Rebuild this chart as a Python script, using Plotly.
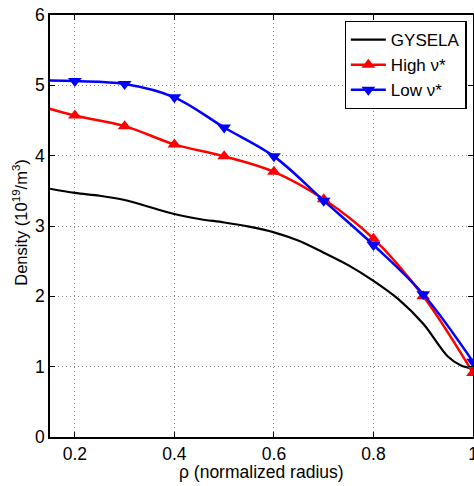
import plotly.graph_objects as go

# GYSELA reference profile
rho_gysela = [0.15, 0.2, 0.25, 0.3, 0.35, 0.4, 0.45, 0.5, 0.55, 0.6, 0.65, 0.7, 0.75, 0.8, 0.85, 0.9, 0.95, 0.975, 1.0]
dens_gysela = [3.53, 3.47, 3.43, 3.37, 3.27, 3.17, 3.10, 3.05, 2.99, 2.91, 2.79, 2.62, 2.44, 2.22, 1.96, 1.61, 1.14, 1.02, 0.97]

# Measured profiles
rho_meas = [0.1, 0.2, 0.3, 0.4, 0.5, 0.6, 0.7, 0.8, 0.9, 1.0]
dens_high = [4.77, 4.57, 4.42, 4.16, 3.99, 3.77, 3.38, 2.82, 2.00, 0.91]
dens_low = [5.07, 5.06, 5.02, 4.83, 4.40, 3.99, 3.36, 2.73, 2.03, 1.07]

x_ticks = [0.2, 0.4, 0.6, 0.8, 1.0]
x_tick_labels = ["0.2", "0.4", "0.6", "0.8", "1"]
y_ticks = [0, 1, 2, 3, 4, 5, 6]

fig = go.Figure()
fig.add_trace(go.Scatter(x=rho_gysela, y=dens_gysela, mode="lines", name="GYSELA",
                         line=dict(color="black", width=2.2, shape="spline")))
fig.add_trace(go.Scatter(x=rho_meas, y=dens_high, mode="lines+markers", name="High ν*",
                         line=dict(color="#ff0000", width=2.5, shape="spline"),
                         marker=dict(symbol="triangle-up", size=12, color="#ff0000")))
fig.add_trace(go.Scatter(x=rho_meas, y=dens_low, mode="lines+markers", name="Low ν*",
                         line=dict(color="#0000ff", width=2.5, shape="spline"),
                         marker=dict(symbol="triangle-down", size=12, color="#0000ff")))

axis_common = dict(showline=True, linecolor="black", linewidth=1.5, mirror="ticks",
                   ticks="inside", ticklen=5, tickcolor="black", automargin=False,
                   showgrid=True, gridcolor="#8a8a8a", griddash="1px,3px", gridwidth=1,
                   zeroline=False, tickfont=dict(size=17.5, color="black"),
                   ticklabeloverflow="allow")

fig.update_xaxes(range=[0.15, 1.0], tickvals=x_ticks, ticktext=x_tick_labels, **axis_common)
fig.update_yaxes(range=[0, 6], tickvals=y_ticks, **axis_common)

fig.add_annotation(text="ρ (normalized radius)", xref="paper", yref="paper",
                   x=0.5, y=-0.084, xanchor="center", yanchor="middle", showarrow=False,
                   font=dict(size=17.5, color="black"))
fig.add_annotation(text="Density (10<sup>19</sup>/m<sup>3</sup>)", xref="paper", yref="paper",
                   x=-0.071, y=0.51, xanchor="center", yanchor="middle", showarrow=False,
                   textangle=-90, font=dict(size=16.5, color="black"))

fig.update_layout(
    width=474, height=486,
    margin=dict(l=50, r=1, t=15, b=49),
    paper_bgcolor="white", plot_bgcolor="white",
    font=dict(family="Liberation Sans, Arial, Helvetica, sans-serif", color="black"),
    showlegend=True,
    legend=dict(x=0.985, y=0.986, xanchor="right", yanchor="top",
                bgcolor="white", bordercolor="black", borderwidth=1.2,
                font=dict(size=17, color="black"), tracegroupgap=0, itemwidth=35),
)

fig.write_html("out.html", config={"displayModeBar": False},
               post_script="document.body.style.margin='0';document.body.style.overflow='hidden';")
